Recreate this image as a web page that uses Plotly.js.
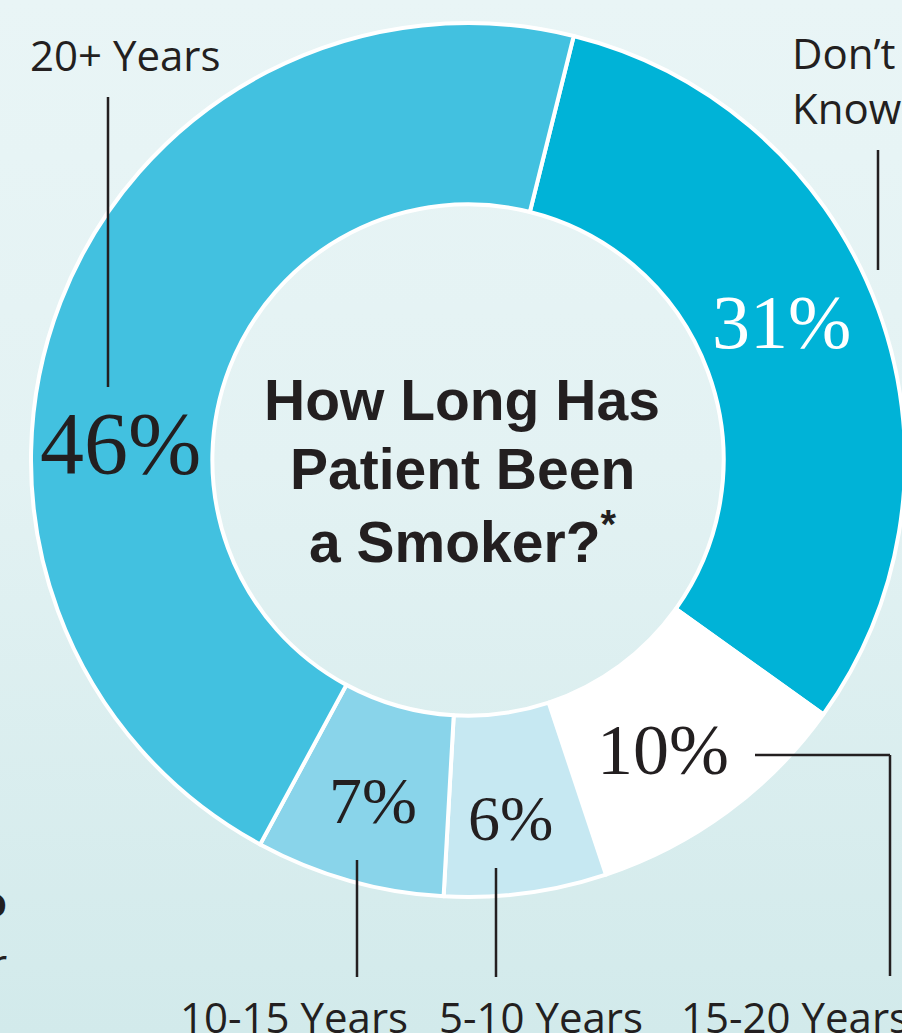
<!DOCTYPE html>
<html>
<head>
<meta charset="utf-8">
<script src="https://cdn.plot.ly/plotly-3.0.1.min.js"></script>
<style>
  html, body { margin: 0; padding: 0; overflow: hidden; width: 902px; height: 1033px; }
  body { background: linear-gradient(to bottom, #E9F5F6 0%, #E3F2F3 45%, #D2EAEB 100%); }
  #chart { width: 920px; height: 1033px; }
</style>
</head>
<body>
<div id="chart"></div>
<script>
// ---- data ----
const categories = ["Don\u2019t<br>Know", "15-20 Years", "5-10 Years", "10-15 Years", "20+ Years"];
const values = [31, 10, 6, 7, 46];
const sliceColors = ["#00B3D7", "#FFFFFF", "#C6E8F2", "#89D4EA", "#42C1E0"];
const percentColors = ["#FFFFFF", "#231F20", "#231F20", "#231F20", "#231F20"];
const titleLines = ["How Long Has", "Patient Been", "a Smoker?<sup>*</sup>"];

// ---- geometry helpers (pixels -> paper) ----
const W = 920, H = 1033;
const px = x => x / W;
const py = y => 1 - y / H;
const CX = 468, CY = 460, R = 437;

const trace = {
  type: "pie",
  labels: categories,
  values: values,
  sort: false,
  direction: "clockwise",
  rotation: 14,
  hole: 0.585,
  textinfo: "none",
  hoverinfo: "label+value",
  marker: { colors: sliceColors, line: { color: "#FFFFFF", width: 4 } },
  domain: { x: [px(CX - R), px(CX + R)], y: [py(CY + R), py(CY - R)] },
  showlegend: false
};

// percent label positions & sizes (styling)
const pctPos = [[781, 322, 76], [663, 750, 72], [510, 818, 64], [373, 800, 66], [120, 444, 88]];
// category label positions (styling)
const catPos = [[790, 80, "left"], [795, 1016, "center"], [541, 1016, "center"], [294, 1016, "center"], [126, 54, "center"]];

const annotations = [];
values.forEach((v, i) => {
  annotations.push({
    xref: "paper", yref: "paper", x: px(pctPos[i][0]), y: py(pctPos[i][1]),
    text: v + "%", showarrow: false, xanchor: "center", yanchor: "middle",
    font: { family: "Liberation Serif, Times New Roman, serif", size: pctPos[i][2], color: percentColors[i] }
  });
  annotations.push({
    xref: "paper", yref: "paper", x: px(catPos[i][0]), y: py(catPos[i][1]),
    text: categories[i], showarrow: false, xanchor: catPos[i][2], yanchor: "middle",
    align: "left",
    font: { family: "Open Sans, Noto Sans, sans-serif", size: 42, color: "#231F20" }
  });
});
const titleY = [400, 469, 538];
titleLines.forEach((t, i) => {
  annotations.push({
    xref: "paper", yref: "paper", x: px(CX - 6), y: py(titleY[i]),
    text: "<b>" + t + "</b>", showarrow: false, xanchor: "center", yanchor: "middle",
    font: { family: "Liberation Sans, Arial, sans-serif", size: 57, color: "#231F20" }
  });
});
// partial fragments at left edge
annotations.push({ xref: "paper", yref: "paper", x: px(9), y: py(900), text: "<b>o</b>", showarrow: false,
  xanchor: "right", yanchor: "middle", font: { family: "Open Sans, sans-serif", size: 42, color: "#231F20" } });
annotations.push({ xref: "paper", yref: "paper", x: px(9), y: py(962), text: "r", showarrow: false,
  xanchor: "right", yanchor: "middle", font: { family: "Open Sans, sans-serif", size: 42, color: "#231F20" } });

const lineStyle = { color: "#231F20", width: 2.5 };
const seg = (x0, y0, x1, y1) => ({ type: "line", xref: "paper", yref: "paper",
  x0: px(x0), y0: py(y0), x1: px(x1), y1: py(y1), line: lineStyle });
const shapes = [
  seg(108, 97, 108, 387),
  seg(878, 150, 878, 270),
  seg(755, 755, 890, 755),
  seg(890, 755, 890, 976),
  seg(357, 860, 357, 977),
  seg(496, 868, 496, 977)
];

const layout = {
  width: W, height: H,
  margin: { l: 0, r: 0, t: 0, b: 0 },
  paper_bgcolor: "rgba(0,0,0,0)",
  plot_bgcolor: "rgba(0,0,0,0)",
  annotations: annotations,
  shapes: shapes,
  showlegend: false
};

Plotly.newPlot("chart", [trace], layout, { displayModeBar: false, staticPlot: true });
</script>
</body>
</html>
